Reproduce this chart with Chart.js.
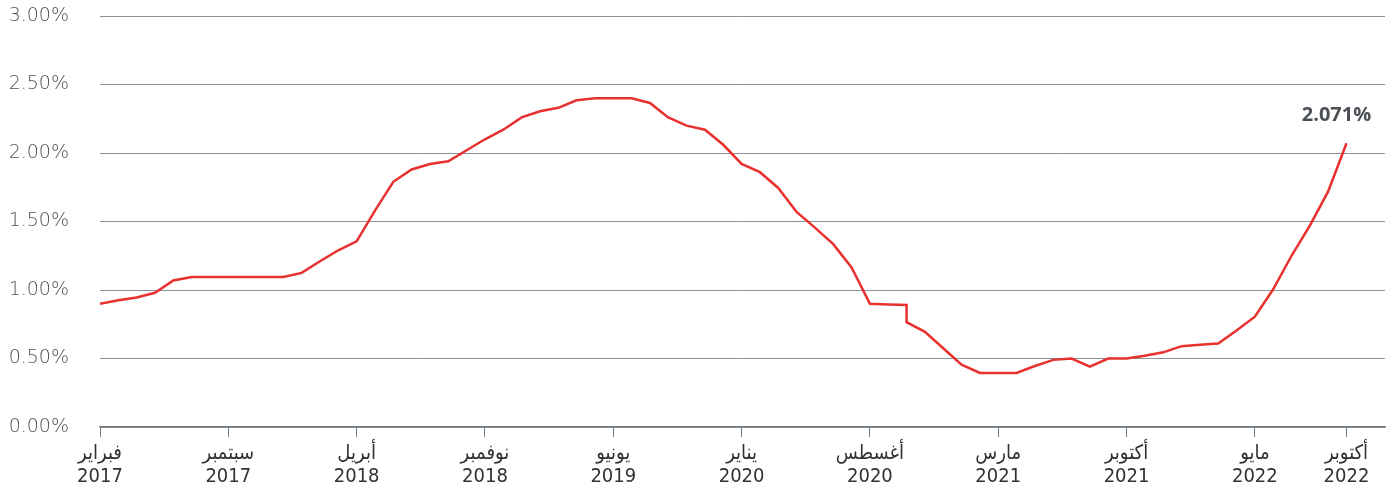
<!DOCTYPE html>
<html>
<head>
<meta charset="utf-8">
<script src="https://cdn.jsdelivr.net/npm/chart.js@4"></script>
<style>
  html, body { margin: 0; padding: 0; background: #fff; }
  #wrap { width: 1395px; height: 492px; position: relative; }
</style>
</head>
<body>
<div id="wrap"><canvas id="rateChart"></canvas></div>
<script>
// month index, 0 = Feb 2017
const pointMonths = [0, 1, 2, 3, 4, 5, 6, 7, 8, 9, 10, 11, 12, 13, 14, 15, 16, 17, 18, 19,
  20, 21, 22, 23, 24, 25, 26, 27, 28, 29, 30, 31, 32, 33, 34, 35, 36, 37, 38, 39,
  40, 41, 42, 43, 44, 44, 45, 46, 47, 48, 49, 50, 51, 52, 53, 54, 55, 56, 57, 58,
  59, 60, 61, 62, 63, 64, 65, 66, 67, 68];
const rates = [0.90, 0.925, 0.945, 0.98, 1.07, 1.095, 1.095, 1.095, 1.095, 1.095, 1.095, 1.125,
  1.21, 1.29, 1.355, 1.58, 1.79, 1.88, 1.92, 1.94, 2.02, 2.10, 2.17, 2.26, 2.305, 2.33,
  2.385, 2.40, 2.40, 2.40, 2.365, 2.26, 2.20, 2.17, 2.06, 1.92, 1.86, 1.745, 1.57, 1.455,
  1.335, 1.165, 0.90, 0.895, 0.89, 0.765, 0.695, 0.575, 0.455, 0.395, 0.395, 0.395, 0.445,
  0.49, 0.50, 0.44, 0.50, 0.50, 0.52, 0.545, 0.59, 0.60, 0.61, 0.705, 0.805, 1.005, 1.25,
  1.47, 1.72, 2.071];

const tickMonths = [0, 7, 14, 21, 28, 35, 42, 49, 56, 63, 68];
const tickNames = ["فبراير", "سبتمبر", "أبريل", "نوفمبر", "يونيو", "يناير", "أغسطس", "مارس", "أكتوبر", "مايو", "أكتوبر"];
const tickYears = ["2017", "2017", "2018", "2018", "2019", "2020", "2020", "2021", "2021", "2022", "2022"];
const yTicks = [0, 0.5, 1, 1.5, 2, 2.5, 3];

const lastLabel = "2.071%";

// label above the last point
const endLabel = {
  id: "endLabel",
  afterDatasetsDraw(chart) {
    const meta = chart.getDatasetMeta(0);
    const pt = meta.data[meta.data.length - 1];
    const c = chart.ctx;
    c.save();
    c.font = "bold 20px 'Open Sans', sans-serif";
    c.fillStyle = "#4b5056";
    c.textAlign = "center";
    c.textBaseline = "alphabetic";
    c.fillText(lastLabel, pt.x - 10, pt.y - 22);
    c.restore();
  }
};

const points = pointMonths.map((m, i) => ({ x: m, y: rates[i] }));

new Chart(document.getElementById("rateChart"), {
  type: "line",
  data: {
    datasets: [{
      data: points,
      borderColor: "#e8312f",
      borderWidth: 2.5,
      pointRadius: 0,
      tension: 0,
      fill: false
    }]
  },
  plugins: [endLabel],
  options: {
    responsive: true,
    maintainAspectRatio: false,
    animation: false,
    layout: { padding: { top: 16, right: 10, left: 0, bottom: 0 } },
    plugins: { legend: { display: false }, tooltip: { enabled: false } },
    scales: {
      x: {
        type: "linear",
        min: 0,
        max: 70.1,
        afterBuildTicks(scale) {
          scale.ticks = tickMonths.map(v => ({ value: v }));
        },
        afterFit(scale) { scale.height = 65; },
        ticks: {
          autoSkip: false,
          maxRotation: 0,
          padding: 5,
          color: "#2f3133",
          font: { family: "'Liberation Sans Narrow', 'DejaVu Sans Condensed', sans-serif", size: 20, lineHeight: 1.15 },
          callback(value) {
            const i = tickMonths.indexOf(value);
            return i < 0 ? "" : [tickNames[i], tickYears[i]];
          }
        },
        grid: { drawOnChartArea: false, drawTicks: true, tickLength: 10, color: "#737a81", lineWidth: 1 },
        border: { display: true, color: "#737a81", width: 1.5 }
      },
      y: {
        min: 0,
        max: 3,
        afterBuildTicks(scale) {
          scale.ticks = yTicks.map(v => ({ value: v }));
        },
        afterFit(scale) {
          scale.width = 100;
          scale.paddingTop = 0;
          scale.paddingBottom = 0;
        },
        ticks: {
          padding: 31,
          color: "#4f5357",
          font: { family: "'DejaVu Sans', sans-serif", size: 19, weight: 300 },
          callback(value) { return value.toFixed(2) + "%"; }
        },
        grid: { drawTicks: false, color: "#8a939b", lineWidth: 1 },
        border: { display: false }
      }
    }
  }
});
</script>
</body>
</html>
